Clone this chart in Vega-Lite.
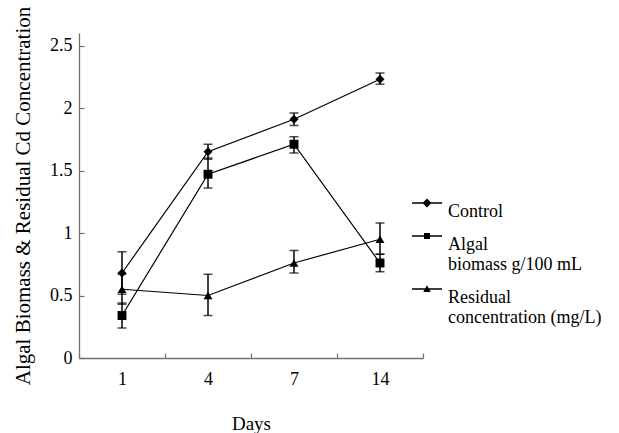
{
  "$schema": "https://vega.github.io/schema/vega-lite/v6.json",
  "width": 344,
  "height": 325,
  "autosize": "none",
  "padding": {"left": 79, "top": 33, "right": 196, "bottom": 75},
  "background": "white",
  "config": {
    "font": "Liberation Serif",
    "view": {"stroke": null},
    "axis": {
      "labelFont": "Liberation Serif",
      "titleFont": "Liberation Serif",
      "labelColor": "black",
      "titleColor": "black",
      "titleFontWeight": "normal",
      "labelFontSize": 18,
      "titleFontSize": 19,
      "grid": false,
      "domainColor": "#707070",
      "tickColor": "#707070",
      "domainWidth": 1.3,
      "tickWidth": 1.2
    },
    "legend": {
      "labelFont": "Liberation Serif",
      "labelFontSize": 18,
      "labelColor": "black",
      "labelOffset": 6
    }
  },
  "data": {
    "values": [
      {"series": "Control", "day": 1, "y": 0.68, "lo": 0.51, "hi": 0.85},
      {"series": "Control", "day": 4, "y": 1.65, "lo": 1.59, "hi": 1.71},
      {"series": "Control", "day": 7, "y": 1.91, "lo": 1.86, "hi": 1.96},
      {"series": "Control", "day": 14, "y": 2.23, "lo": 2.19, "hi": 2.28},
      {"series": "Algal|biomass g/100 mL", "day": 1, "y": 0.34, "lo": 0.24, "hi": 0.44},
      {"series": "Algal|biomass g/100 mL", "day": 4, "y": 1.47, "lo": 1.36, "hi": 1.6},
      {"series": "Algal|biomass g/100 mL", "day": 7, "y": 1.71, "lo": 1.64, "hi": 1.77},
      {"series": "Algal|biomass g/100 mL", "day": 14, "y": 0.76, "lo": 0.69, "hi": 0.83},
      {"series": "Residual|concentration (mg/L)", "day": 1, "y": 0.55, "lo": 0.43, "hi": 0.67},
      {"series": "Residual|concentration (mg/L)", "day": 4, "y": 0.5, "lo": 0.34, "hi": 0.67},
      {"series": "Residual|concentration (mg/L)", "day": 7, "y": 0.76, "lo": 0.68, "hi": 0.86},
      {"series": "Residual|concentration (mg/L)", "day": 14, "y": 0.95, "lo": 0.83, "hi": 1.08}
    ]
  },
  "encoding": {
    "x": {
      "field": "day",
      "type": "ordinal",
      "sort": [1, 4, 7, 14],
      "scale": {"type": "band", "paddingInner": 0, "paddingOuter": 0},
      "bandPosition": 0.5,
      "axis": {
        "title": "Days",
        "labelAngle": 0,
        "tickBand": "extent",
        "tickSize": -5,
        "labelPadding": 17,
        "titlePadding": 26
      }
    }
  },
  "layer": [
    {
      "mark": {"type": "line", "color": "black", "strokeWidth": 1.2},
      "encoding": {
        "y": {
          "field": "y",
          "type": "quantitative",
          "scale": {"domain": [0, 2.5]},
          "axis": {
            "title": "Algal Biomass & Residual Cd Concentration",
            "titleFontSize": 21,
            "values": [0, 0.5, 1, 1.5, 2, 2.5],
            "format": "~g",
            "tickSize": -5,
            "labelPadding": 12,
            "titlePadding": 16
          }
        },
        "detail": {"field": "series", "type": "nominal"}
      }
    },
    {
      "mark": {"type": "errorbar", "color": "black", "thickness": 1.5, "ticks": {"size": 9, "thickness": 1.5}},
      "encoding": {
        "y": {"field": "lo", "type": "quantitative", "title": "Algal Biomass & Residual Cd Concentration"},
        "y2": {"field": "hi"}
      }
    },
    {
      "mark": {"type": "point", "filled": true, "color": "black", "opacity": 1, "size": 80},
      "encoding": {
        "y": {"field": "y", "type": "quantitative", "title": "Algal Biomass & Residual Cd Concentration"},
        "shape": {
          "field": "series",
          "type": "nominal",
          "scale": {
            "domain": ["Control", "Algal|biomass g/100 mL", "Residual|concentration (mg/L)"],
            "range": ["diamond", "square", "triangle-up"]
          },
          "legend": null
        }
      }
    },
    {
      "transform": [{"filter": "false"}],
      "mark": {"type": "point", "filled": true, "color": "black", "opacity": 1},
      "encoding": {
        "shape": {
          "field": "series",
          "type": "nominal",
          "scale": {
            "domain": ["Control", "Algal|biomass g/100 mL", "Residual|concentration (mg/L)"],
            "range": [
              "M-1,-0.05H1V0.05H-1ZM-0.3,0L0,-0.3L0.3,0L0,0.3Z",
              "M-1,-0.05H1V0.05H-1ZM-0.2,-0.2H0.2V0.2H-0.2Z",
              "M-1,-0.05H1V0.05H-1ZM-0.25,0.2L0,-0.25L0.25,0.2Z"
            ]
          },
          "legend": {
            "title": null,
            "orient": "none",
            "legendX": 333,
            "legendY": 155,
            "labelExpr": "split(datum.label, '|')",
            "labelBaseline": "top",
            "rowPadding": 0,
            "symbolSize": 900,
            "symbolFillColor": "black",
            "symbolStrokeColor": "black",
            "symbolStrokeWidth": 0,
            "encode": {
              "symbols": {
                "update": {
                  "fill": {"value": "black"},
                  "fillOpacity": {"value": 1}
                }
              }
            }
          }
        }
      }
    }
  ],
  "resolve": {"scale": {"shape": "independent"}}
}
